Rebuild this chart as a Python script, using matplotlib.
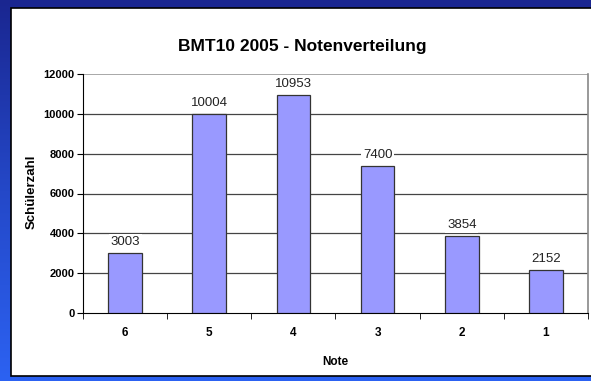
import matplotlib.pyplot as plt
import numpy as np
from matplotlib.colors import LinearSegmentedColormap
from matplotlib.patches import Rectangle

plt.rcParams["font.family"] = ["Liberation Sans", "DejaVu Sans"]

# grade distribution
grades = ["6", "5", "4", "3", "2", "1"]
students = [3003, 10004, 10953, 7400, 3854, 2152]
y_ticks = [0, 2000, 4000, 6000, 8000, 10000, 12000]

W, H, DPI = 591, 381, 100
fig = plt.figure(figsize=(W / DPI, H / DPI), dpi=DPI)

# blue slide background, dark at the top, brighter towards the bottom
bg = fig.add_axes([0, 0, 1, 1])
bg_cmap = LinearSegmentedColormap.from_list("slide", ["#1a2690", "#2448c8", "#2c62f2"])
grad = np.linspace(0, 1, 256).reshape(-1, 1)
bg.imshow(grad, aspect="auto", cmap=bg_cmap, extent=[0, 1, 0, 1], origin="upper")
bg.add_patch(Rectangle((11 / W, 5 / H), 1.0, (H - 7.5 - 5) / H,
                       facecolor="white", edgecolor="black", linewidth=1.2))
bg.set_xlim(0, 1)
bg.set_ylim(0, 1)
bg.axis("off")

x0, x1 = 83, 588
y_top, y_zero = 74, 313
ax = fig.add_axes([x0 / W, 1 - y_zero / H, (x1 - x0) / W, (y_zero - y_top) / H])
ax.set_facecolor("none")

x = np.arange(len(grades))
ax.bar(x, students, width=0.4, color="#9999ff", edgecolor="#333333",
       linewidth=0.9, zorder=3)
for xi, v in zip(x, students):
    ax.text(xi, v + 250, str(v), ha="center", va="bottom", fontsize=9.5,
            color="#222222", zorder=4,
            bbox=dict(facecolor="white", edgecolor="none", pad=1.2))

ax.set_xlim(-0.5, len(grades) - 0.5)
ax.set_ylim(0, 12000)
ax.set_yticks(y_ticks)
ax.set_yticklabels([str(t) for t in y_ticks], fontsize=8, fontweight="bold")
ax.set_xticks(x)
ax.set_xticklabels(grades, fontsize=8.5, fontweight="bold")
ax.set_xticks(np.arange(-0.5, len(grades)), minor=True)
ax.tick_params(axis="x", which="major", length=0, pad=10)
ax.tick_params(axis="x", which="minor", length=4, direction="out", color="black")
ax.tick_params(axis="y", length=4, direction="out", pad=2)
for t in y_ticks[1:-1]:
    ax.axhline(t, color="#444444", linewidth=0.9, zorder=1)
ax.axhline(12000, color="#999999", linewidth=1.2, zorder=1)

ax.spines["top"].set_visible(False)
ax.spines["right"].set_color("#888888")
ax.spines["right"].set_linewidth(1.2)
ax.spines["left"].set_color("black")
ax.spines["bottom"].set_color("black")

ax.set_xlabel("Note", fontsize=8.5, fontweight="bold", labelpad=12)

# y label sits at a fixed spot left of the tick labels
fig.text(32 / W, 1 - 192 / H, "Schülerzahl", rotation=90,
         ha="center", va="center", fontsize=9.5, fontweight="bold")
fig.text(302 / W, 1 - 47 / H, "BMT10 2005 - Notenverteilung",
         ha="center", va="center", fontsize=12.5, fontweight="bold")

fig.savefig("out.png", dpi=DPI)
